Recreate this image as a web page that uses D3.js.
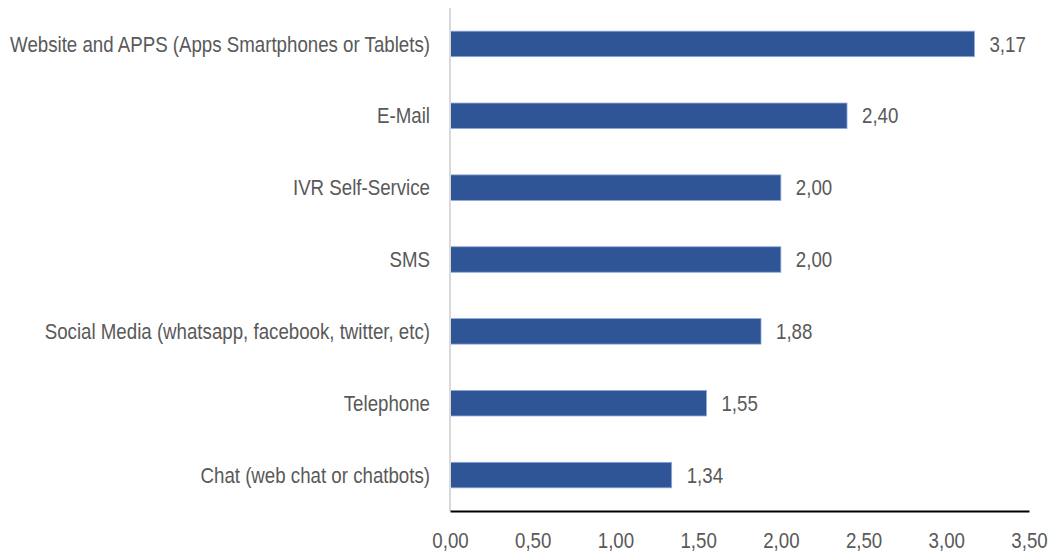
<!DOCTYPE html>
<html>
<head>
<meta charset="utf-8">
<script src="https://cdn.jsdelivr.net/npm/d3@7"></script>
<style>
  html, body { margin: 0; padding: 0; background: #fff; }
  svg text { font-family: "Liberation Sans Narrow", "Arial Narrow", "Liberation Sans", Arial, sans-serif; fill: #595959; }
</style>
</head>
<body>
<svg id="chart" width="1053" height="552"></svg>
<script>
// Channels and their average scores
const categories = [
  "Website and APPS (Apps Smartphones or Tablets)",
  "E-Mail",
  "IVR Self-Service",
  "SMS",
  "Social Media (whatsapp, facebook, twitter, etc)",
  "Telephone",
  "Chat (web chat or chatbots)"
];
const values = [3.17, 2.40, 2.00, 2.00, 1.88, 1.55, 1.34];
const tickValues = [0, 0.5, 1, 1.5, 2, 2.5, 3, 3.5];

const svg = d3.select("#chart");
const fmt = v => d3.format(".2f")(v).replace(".", ",");
const FONT = 22;

const x = d3.scaleLinear().domain([0, 3.5]).range([450, 1029]);
const y = d3.scaleBand().domain(categories).range([8, 511]).paddingInner(0.645).paddingOuter(0.3225);

// Horizontal squeeze so the regular sans face reads like a narrow face
const probe = svg.append("text").attr("font-size", FONT).text(categories[0]);
const sx = Math.min(1, 420 / probe.node().getComputedTextLength());
probe.remove();

// text placed at (px, py) with horizontal condensing
function narrowText(sel, px, py, anchor, label) {
  sel.append("g")
    .attr("transform", `translate(${px},${py}) scale(${sx},1)`)
    .append("text")
    .attr("dy", "0.35em")
    .attr("text-anchor", anchor)
    .attr("font-size", FONT)
    .text(label);
}

// bars
svg.append("g").selectAll("rect")
  .data(categories)
  .join("rect")
  .attr("x", x(0))
  .attr("y", d => y(d))
  .attr("width", (d, i) => x(values[i]) - x(0))
  .attr("height", y.bandwidth())
  .attr("fill", "#2F5597")
  .attr("stroke", "#8EA9DB")
  .attr("stroke-width", 0.8);

// value labels and category labels
const labels = svg.append("g");
categories.forEach((c, i) => {
  const cy = y(c) + y.bandwidth() / 2;
  narrowText(labels, x(values[i]) + 15, cy, "start", fmt(values[i]));
  narrowText(labels, 430, cy, "end", c);
});

// vertical category axis line
svg.append("line")
  .attr("x1", x(0)).attr("x2", x(0))
  .attr("y1", 8).attr("y2", 511)
  .attr("stroke", "#D9D9D9").attr("stroke-width", 2);

// value axis
const xAxis = d3.axisBottom(x).tickValues(tickValues).tickSize(0).tickFormat(() => "");
const gx = svg.append("g").attr("transform", "translate(0,511)").call(xAxis);
gx.select(".domain").attr("stroke", "#000").attr("stroke-width", 2);
gx.selectAll(".tick").each(function(d) {
  d3.select(this).select("text").remove();
  narrowText(d3.select(this), 0, 29, "middle", fmt(d));
});
</script>
</body>
</html>
